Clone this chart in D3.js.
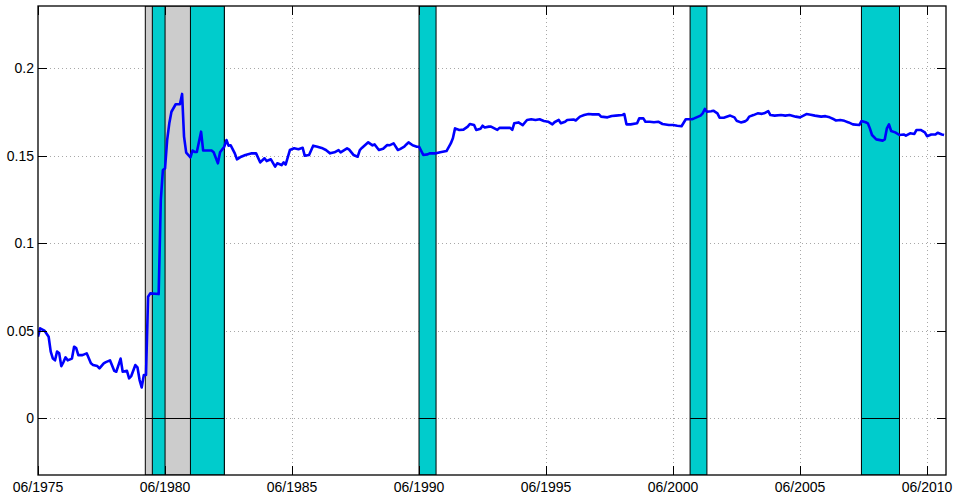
<!DOCTYPE html>
<html>
<head>
<meta charset="utf-8">
<script src="https://cdn.jsdelivr.net/npm/d3@7/dist/d3.min.js"></script>
<style>
  html, body { margin: 0; padding: 0; background: #fff; }
  svg { display: block; }
  text { font-family: "Liberation Sans", Arial, Helvetica, sans-serif; font-size: 14px; fill: #000; }
</style>
</head>
<body>
<svg id="chart" width="956" height="502"></svg>
<script>
// Monthly observations (YYYY-MM) and the series value for each
const months = ["1975-06","1975-07","1975-09","1975-11","1975-12","1976-01","1976-02","1976-03","1976-04","1976-05","1976-06","1976-07","1976-08","1976-10","1976-11","1976-12","1977-01","1977-03","1977-05","1977-07","1977-08","1977-10","1977-11","1978-01","1978-02","1978-04","1978-06","1978-07","1978-09","1978-10","1978-12","1979-01","1979-02","1979-04","1979-05","1979-06","1979-07","1979-08","1979-09","1979-10","1979-11","1980-03","1980-04","1980-05","1980-06","1980-07","1980-08","1980-09","1980-11","1981-01","1981-02","1981-03","1981-04","1981-06","1981-07","1981-08","1981-09","1981-11","1981-12","1982-01","1982-04","1982-05","1982-07","1982-08","1982-10","1982-11","1982-12","1983-01","1983-03","1983-04","1983-06","1983-08","1983-11","1984-01","1984-03","1984-05","1984-06","1984-08","1984-10","1984-11","1985-01","1985-02","1985-03","1985-05","1985-07","1985-09","1985-11","1985-12","1986-02","1986-04","1986-06","1986-08","1986-10","1986-12","1987-02","1987-04","1987-05","1987-08","1987-09","1987-11","1988-01","1988-02","1988-03","1988-06","1988-08","1988-09","1988-11","1989-01","1989-03","1989-04","1989-06","1989-08","1989-09","1989-11","1989-12","1990-01","1990-03","1990-05","1990-06","1990-08","1990-10","1990-11","1991-02","1991-04","1991-07","1991-09","1991-10","1991-11","1992-01","1992-03","1992-05","1992-06","1992-08","1992-09","1992-11","1992-12","1993-01","1993-03","1993-04","1993-07","1993-08","1993-10","1994-01","1994-02","1994-03","1994-05","1994-07","1994-09","1994-11","1995-01","1995-03","1995-05","1995-07","1995-09","1995-10","1995-12","1996-01","1996-03","1996-04","1996-07","1996-08","1996-10","1996-12","1997-02","1997-04","1997-07","1997-08","1997-11","1998-01","1998-03","1998-06","1998-07","1998-08","1998-10","1999-01","1999-02","1999-04","1999-05","1999-07","1999-09","1999-11","2000-01","2000-04","2000-06","2000-08","2000-10","2000-12","2001-03","2001-04","2001-07","2001-08","2001-09","2001-10","2001-12","2002-01","2002-03","2002-04","2002-06","2002-07","2002-09","2002-11","2002-12","2003-02","2003-04","2003-05","2003-06","2003-08","2003-10","2003-12","2004-01","2004-03","2004-04","2004-06","2004-09","2004-11","2005-01","2005-04","2005-06","2005-09","2005-11","2006-01","2006-04","2006-06","2006-08","2006-10","2006-11","2007-01","2007-03","2007-05","2007-07","2007-10","2007-11","2008-01","2008-02","2008-03","2008-04","2008-06","2008-09","2008-10","2008-11","2008-12","2009-01","2009-03","2009-05","2009-07","2009-08","2009-10","2009-12","2010-01","2010-03","2010-05","2010-06","2010-08","2010-10","2010-11","2011-01","2011-02"];

const values = [0.0465,0.0513,0.0500,0.0465,0.0380,0.0340,0.0330,0.0380,0.0370,0.0297,0.0320,0.0347,0.0330,0.0340,0.0408,0.0400,0.0360,0.0360,0.0370,0.0313,0.0303,0.0297,0.0284,0.0313,0.0320,0.0330,0.0270,0.0265,0.0340,0.0265,0.0270,0.0227,0.0240,0.0303,0.0290,0.0217,0.0175,0.0246,0.0246,0.0694,0.0713,0.0709,0.1247,0.1419,0.1428,0.1590,0.1686,0.1752,0.1795,0.1795,0.1854,0.1610,0.1518,0.1491,0.1530,0.1522,0.1522,0.1638,0.1530,0.1530,0.1530,0.1520,0.1457,0.1520,0.1552,0.1590,0.1558,0.1560,0.1514,0.1480,0.1495,0.1505,0.1514,0.1514,0.1462,0.1486,0.1470,0.1480,0.1438,0.1457,0.1447,0.1462,0.1450,0.1533,0.1543,0.1538,0.1546,0.1500,0.1505,0.1558,0.1552,0.1545,0.1533,0.1514,0.1520,0.1533,0.1520,0.1543,0.1535,0.1505,0.1495,0.1533,0.1545,0.1577,0.1560,0.1565,0.1533,0.1540,0.1562,0.1560,0.1571,0.1533,0.1538,0.1552,0.1565,0.1577,0.1560,0.1552,0.1552,0.1505,0.1508,0.1514,0.1514,0.1520,0.1527,0.1571,0.1600,0.1657,0.1648,0.1650,0.1667,0.1682,0.1676,0.1648,0.1655,0.1672,0.1662,0.1667,0.1667,0.1648,0.1660,0.1660,0.1660,0.1648,0.1686,0.1691,0.1676,0.1705,0.1709,0.1705,0.1709,0.1699,0.1695,0.1680,0.1692,0.1705,0.1686,0.1695,0.1705,0.1708,0.1702,0.1724,0.1733,0.1739,0.1737,0.1737,0.1724,0.1720,0.1728,0.1730,0.1733,0.1739,0.1680,0.1680,0.1686,0.1714,0.1714,0.1695,0.1695,0.1692,0.1695,0.1682,0.1676,0.1676,0.1672,0.1669,0.1709,0.1709,0.1714,0.1730,0.1743,0.1768,0.1752,0.1755,0.1758,0.1743,0.1718,0.1718,0.1722,0.1730,0.1720,0.1701,0.1691,0.1697,0.1705,0.1724,0.1733,0.1743,0.1740,0.1743,0.1756,0.1733,0.1730,0.1733,0.1730,0.1733,0.1724,0.1720,0.1739,0.1735,0.1730,0.1724,0.1727,0.1720,0.1709,0.1702,0.1705,0.1700,0.1691,0.1680,0.1676,0.1699,0.1692,0.1686,0.1657,0.1619,0.1594,0.1587,0.1594,0.1657,0.1680,0.1642,0.1634,0.1619,0.1622,0.1615,0.1629,0.1625,0.1648,0.1648,0.1634,0.1612,0.1622,0.1622,0.1632,0.1622,0.1619];

// Shaded periods: one grey span, and the cyan spans drawn over it
const greyStart = ["1979-08-22"];
const greyEnd   = ["1982-10-01"];
const cyanStart = ["1979-12-01","1981-06-01","1990-06-01","2001-02-01","2007-11-01"];
const cyanEnd   = ["1980-06-01","1982-10-01","1991-02-01","2001-10-01","2009-05-01"];

// Axis ticks
const xTickYears = [1975,1980,1985,1990,1995,2000,2005,2010];
const yTicks = [0, 0.05, 0.1, 0.15, 0.2];
const yTickLabels = ["0","0.05","0.1","0.15","0.2"];

const W = 956, H = 502;
const plot = { left: 38, right: 946, top: 6, bottom: 475 };

const parseMonth = d3.timeParse("%Y-%m");
const parseDay = d3.timeParse("%Y-%m-%d");
const series = months.map((m, i) => ({ date: parseMonth(m), value: values[i] }));

const x = d3.scaleTime()
  .domain([new Date(1975, 5, 1), new Date(2011, 2, 1)])
  .range([plot.left, plot.right]);
const y = d3.scaleLinear()
  .domain([-0.0326, 0.2357])
  .range([plot.bottom, plot.top]);

const svg = d3.select("#chart");
svg.append("rect").attr("width", W).attr("height", H).attr("fill", "#fff");

svg.append("defs").append("clipPath").attr("id", "plot-clip")
  .append("rect")
  .attr("x", plot.left).attr("y", plot.top)
  .attr("width", plot.right - plot.left).attr("height", plot.bottom - plot.top);

const xTickDates = xTickYears.map(yr => new Date(yr, 5, 1));

// Dotted grid
const grid = svg.append("g").attr("stroke", "#a8a8a8").attr("stroke-width", 1)
  .attr("stroke-dasharray", "1 3").attr("fill", "none");
grid.selectAll("line.h").data(yTicks).join("line").attr("class", "h")
  .attr("x1", plot.left).attr("x2", plot.right)
  .attr("y1", d => Math.round(y(d)) + 0.5).attr("y2", d => Math.round(y(d)) + 0.5);
grid.selectAll("line.v").data(xTickDates.slice(1)).join("line").attr("class", "v")
  .attr("y1", plot.top).attr("y2", plot.bottom)
  .attr("x1", d => Math.round(x(d)) + 0.5).attr("x2", d => Math.round(x(d)) + 0.5);

// Shaded bands
const bandsG = svg.append("g").attr("clip-path", "url(#plot-clip)");
function drawBands(starts, ends, fill) {
  const spans = starts.map((s, i) => ({ a: parseDay(s), b: parseDay(ends[i]) }));
  bandsG.append("g").selectAll("rect").data(spans).join("rect")
    .attr("x", d => x(d.a)).attr("width", d => x(d.b) - x(d.a))
    .attr("y", plot.top).attr("height", plot.bottom - plot.top)
    .attr("fill", fill).attr("stroke", "#000").attr("stroke-width", 1);
  bandsG.append("g").selectAll("line").data(spans).join("line")
    .attr("x1", d => x(d.a)).attr("x2", d => x(d.b))
    .attr("y1", Math.round(y(0)) + 0.5).attr("y2", Math.round(y(0)) + 0.5)
    .attr("stroke", "#000").attr("stroke-width", 1);
}
drawBands(greyStart, greyEnd, "#cccccc");
drawBands(cyanStart, cyanEnd, "#00cccc");

// Series line
svg.append("path").datum(series)
  .attr("clip-path", "url(#plot-clip)")
  .attr("fill", "none").attr("stroke", "#0000ff").attr("stroke-width", 2.6)
  .attr("stroke-linejoin", "round")
  .attr("d", d3.line().x(d => x(d.date)).y(d => y(d.value)));

// Axes box with inward ticks on all four sides
const axes = svg.append("g").attr("stroke", "#000").attr("fill", "none");
axes.append("rect")
  .attr("x", plot.left).attr("y", plot.top)
  .attr("width", plot.right - plot.left).attr("height", plot.bottom - plot.top)
  .attr("stroke-width", 1.3);
const tl = 9;
xTickDates.forEach(d => {
  const px = Math.round(x(d)) + 0.5;
  axes.append("line").attr("x1", px).attr("x2", px).attr("y1", plot.bottom).attr("y2", plot.bottom - tl);
  axes.append("line").attr("x1", px).attr("x2", px).attr("y1", plot.top).attr("y2", plot.top + tl);
});
yTicks.forEach(v => {
  const py = Math.round(y(v)) + 0.5;
  axes.append("line").attr("x1", plot.left).attr("x2", plot.left + tl).attr("y1", py).attr("y2", py);
  axes.append("line").attr("x1", plot.right).attr("x2", plot.right - tl).attr("y1", py).attr("y2", py);
});

// Tick labels
const fmt = d3.timeFormat("%m/%Y");
svg.append("g").selectAll("text").data(xTickDates).join("text")
  .attr("x", d => x(d)).attr("y", 492)
  .attr("text-anchor", "middle").text(d => fmt(d));
svg.append("g").selectAll("text").data(yTicks).join("text")
  .attr("x", 34).attr("y", d => y(d)).attr("dy", "0.36em")
  .attr("text-anchor", "end").text((d, i) => yTickLabels[i]);
</script>
</body>
</html>
